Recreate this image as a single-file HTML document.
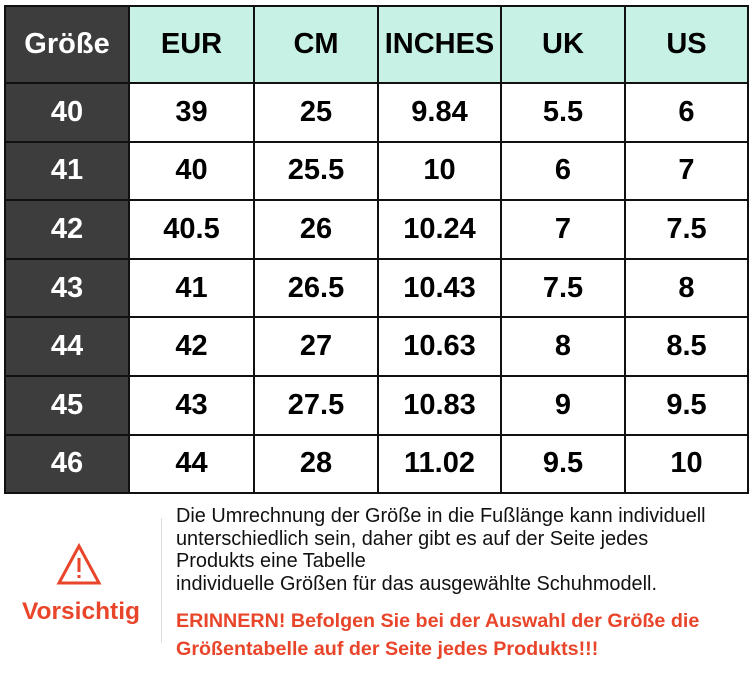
<!DOCTYPE html>
<html><head><style>
body{margin:0;width:750px;height:692px;background:#fff;font-family:"Liberation Sans",Arial,sans-serif;position:relative;overflow:hidden}
table{position:absolute;left:4px;top:5px;border-collapse:collapse;width:743px;table-layout:fixed}
td{border:2.5px solid #111;text-align:center;font-weight:bold;font-size:29px;color:#000;padding:0;box-sizing:border-box}
tr.h td{height:77px;background:#c6f1e4}
tr td{height:58.6px}
td.d{background:#3d3d3d;color:#fff}
tr.h td.d{background:#3d3d3d}
.note{position:absolute;left:176px;top:505px;font-size:19.9px;line-height:22.5px;color:#111}
.red{position:absolute;left:176px;top:607px;font-size:19.7px;line-height:28px;color:#e8452a;font-weight:bold}
.vline{position:absolute;left:161px;top:518px;width:1px;height:125px;background:#ddd}
.vors{position:absolute;left:22px;top:598px;font-size:24.5px;font-weight:bold;color:#e8452a}
</style></head><body>
<table>
<colgroup><col style="width:124px"><col style="width:125px"><col style="width:124px"><col style="width:123px"><col style="width:124px"><col style="width:123px"></colgroup>
<tr class="h"><td class="d">Größe</td><td>EUR</td><td>CM</td><td>INCHES</td><td>UK</td><td>US</td></tr>
<tr><td class="d">40</td><td>39</td><td>25</td><td>9.84</td><td>5.5</td><td>6</td></tr>
<tr><td class="d">41</td><td>40</td><td>25.5</td><td>10</td><td>6</td><td>7</td></tr>
<tr><td class="d">42</td><td>40.5</td><td>26</td><td>10.24</td><td>7</td><td>7.5</td></tr>
<tr><td class="d">43</td><td>41</td><td>26.5</td><td>10.43</td><td>7.5</td><td>8</td></tr>
<tr><td class="d">44</td><td>42</td><td>27</td><td>10.63</td><td>8</td><td>8.5</td></tr>
<tr><td class="d">45</td><td>43</td><td>27.5</td><td>10.83</td><td>9</td><td>9.5</td></tr>
<tr><td class="d">46</td><td>44</td><td>28</td><td>11.02</td><td>9.5</td><td>10</td></tr>
</table>
<svg style="position:absolute;left:56px;top:543px" width="46" height="44" viewBox="0 0 46 44">
<path d="M23 3 L43 40 L3 40 Z" fill="none" stroke="#e8452a" stroke-width="3"/>
<line x1="23" y1="15" x2="23" y2="29" stroke="#e8452a" stroke-width="3"/>
<rect x="21.5" y="32" width="3" height="3" fill="#e8452a"/>
</svg>
<div class="vors">Vorsichtig</div>
<div class="vline"></div>
<div class="note">Die Umrechnung der Größe in die Fußlänge kann individuell<br>unterschiedlich sein, daher gibt es auf der Seite jedes<br>Produkts eine Tabelle<br>individuelle Größen für das ausgewählte Schuhmodell.</div>
<div class="red">ERINNERN! Befolgen Sie bei der Auswahl der Größe die<br>Größentabelle auf der Seite jedes Produkts!!!</div>
</body></html>
